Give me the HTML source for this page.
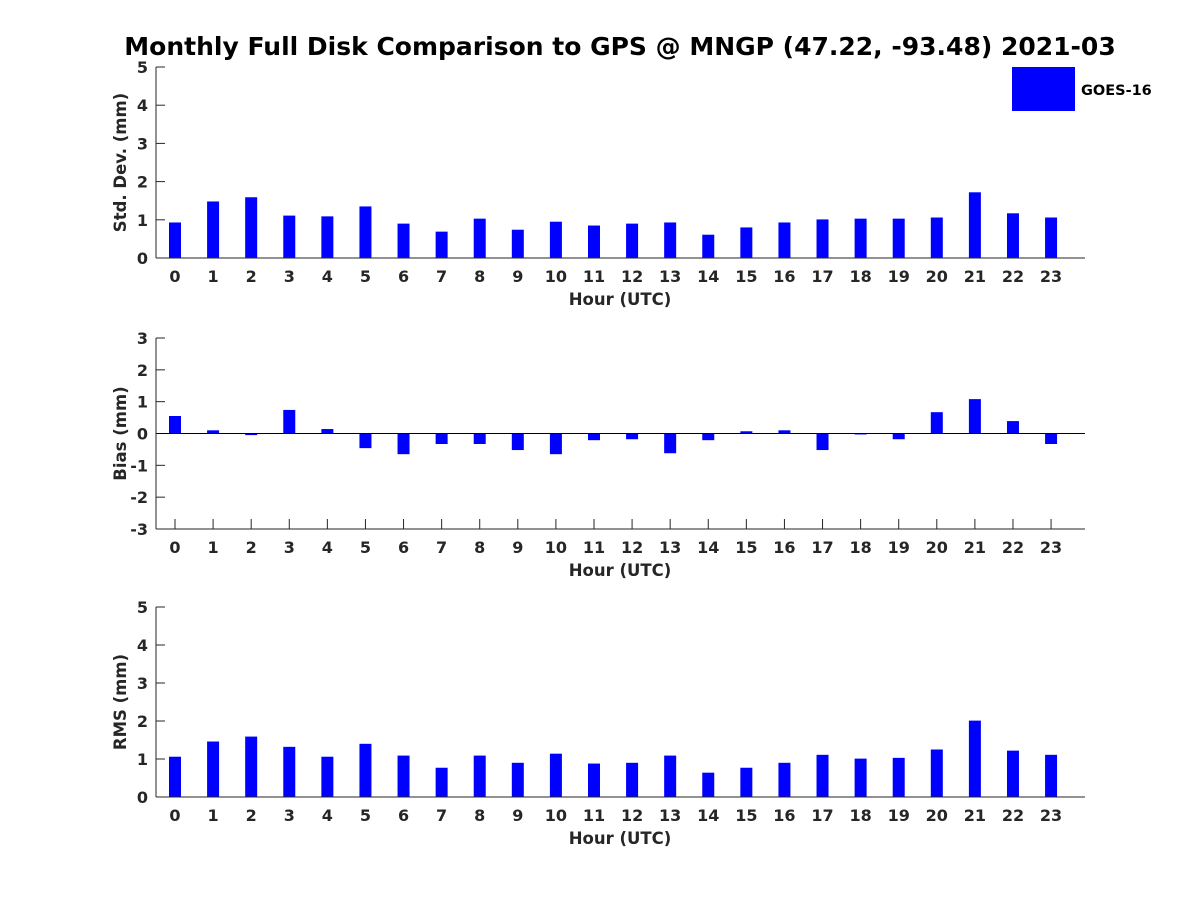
<!DOCTYPE html>
<html><head><meta charset="utf-8"><style>
html,body{margin:0;padding:0;background:#fff;width:1200px;height:900px;overflow:hidden}
svg text{font-family:"DejaVu Sans","Liberation Sans",sans-serif;font-weight:bold}
</style></head><body>
<svg id="chart" width="1200" height="900" xmlns="http://www.w3.org/2000/svg">
<text x="620" y="55" text-anchor="middle" font-size="25" fill="#000">Monthly Full Disk Comparison to GPS @ MNGP (47.22, -93.48) 2021-03</text>
<rect x="1012" y="67" width="63" height="44" fill="#0000ff"/>
<text x="1081" y="95" font-size="14.5" fill="#000">GOES-16</text>
</svg>
<script>
const hours = [0,1,2,3,4,5,6,7,8,9,10,11,12,13,14,15,16,17,18,19,20,21,22,23];
const stdValues = [0.93,1.48,1.59,1.11,1.09,1.35,0.90,0.69,1.03,0.74,0.95,0.85,0.90,0.93,0.61,0.80,0.93,1.01,1.03,1.03,1.06,1.72,1.17,1.06];
const biasValues = [0.55,0.10,-0.05,0.74,0.14,-0.46,-0.65,-0.33,-0.33,-0.52,-0.65,-0.21,-0.18,-0.62,-0.21,0.07,0.10,-0.52,-0.03,-0.18,0.67,1.08,0.39,-0.33];
const rmsValues = [1.06,1.46,1.59,1.32,1.06,1.40,1.09,0.77,1.09,0.90,1.14,0.88,0.90,1.09,0.64,0.77,0.90,1.11,1.01,1.03,1.25,2.01,1.22,1.11];
const stdTicks = [0,1,2,3,4,5];
const biasTicks = [-3,-2,-1,0,1,2,3];
const rmsTicks = [0,1,2,3,4,5];

const svg = document.getElementById('chart');
const NS = 'http://www.w3.org/2000/svg';
const AX_L = 156, AX_R = 1085;
function xs(h){ return 175 + h * 38.09; }
function mk(tag, attrs){ const e = document.createElementNS(NS, tag); for (const k in attrs) e.setAttribute(k, attrs[k]); svg.appendChild(e); return e; }

function panel(key, values, ticks, ymin, ymax, top, bottom, ylabel){
  const ys = v => bottom - (v - ymin) / (ymax - ymin) * (bottom - top);
  ticks.forEach(t => {
    const y = ys(t);
    const tl = mk('line', {x1: AX_L, x2: AX_L + 9, y1: y, y2: y, stroke: '#262626', 'stroke-width': 1});
    
    
    const tx = mk('text', {x: AX_L - 8, y: y + 6, 'text-anchor': 'end', 'font-size': 16, fill: '#262626'});
    tx.textContent = t;
    
    
  });
  hours.forEach(h => {
    const x = xs(h);
    const tl = mk('line', {x1: x, x2: x, y1: bottom, y2: bottom - 10, stroke: '#262626', 'stroke-width': 1});
    
    
    const tx = mk('text', {x: x, y: bottom + 24, 'text-anchor': 'middle', 'font-size': 16, fill: '#262626'});
    tx.textContent = h;
    
    
  });
  values.forEach((v, i) => {
    const y0 = ys(0), y1 = ys(v);
    const r = mk('rect', {x: xs(hours[i]) - 6, y: Math.min(y0, y1), width: 12, height: Math.max(Math.abs(y1 - y0), 0.8), fill: '#0000ff'});
    
    
  });
  if (ymin < 0) {
    const z = mk('line', {x1: AX_L, x2: AX_R, y1: ys(0), y2: ys(0), stroke: '#000', 'stroke-width': 1});
    
    
  }
  const ya = mk('line', {x1: AX_L, x2: AX_L, y1: top, y2: bottom, stroke: '#262626', 'stroke-width': 1});
  
  
  const xa = mk('line', {x1: AX_L, x2: AX_R, y1: bottom, y2: bottom, stroke: '#262626', 'stroke-width': 1});
  
  
  const xl = mk('text', {x: 620, y: bottom + 47, 'text-anchor': 'middle', 'font-size': 16.5, fill: '#262626'});
  xl.textContent = 'Hour (UTC)';
  
  
  const cy = (top + bottom) / 2;
  const yl = mk('text', {x: 126, y: cy, 'text-anchor': 'middle', 'font-size': 16.5, fill: '#262626', transform: 'rotate(-90 126 ' + cy + ')'});
  yl.textContent = ylabel;
  
  
}
panel('std', stdValues, stdTicks, 0, 5, 67, 258, 'Std. Dev. (mm)');
panel('bias', biasValues, biasTicks, -3, 3, 338, 529, 'Bias (mm)');
panel('rms', rmsValues, rmsTicks, 0, 5, 607, 797, 'RMS (mm)');
</script>
</body></html>
